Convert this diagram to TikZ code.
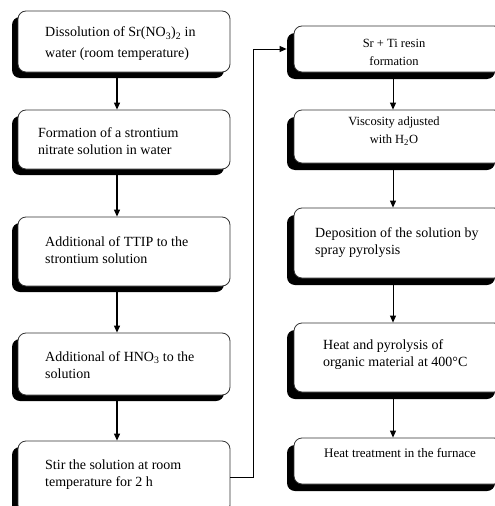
\documentclass[tikz,border=0pt]{standalone}
\usepackage{fontspec}
\setmainfont{Liberation Serif}
\usetikzlibrary{shadows,arrows.meta}
\begin{document}
\begin{tikzpicture}[x=1pt,y=-1pt,
  lbox/.style={draw=black!80, line width=0.8pt, rounded corners=8pt, fill=white,
    minimum width=212pt, inner sep=0pt,
    drop shadow={shadow xshift=-6pt, shadow yshift=-6pt, fill=black, opacity=1}},
  rbox/.style={draw=black!80, line width=0.8pt, rounded corners=8pt, fill=white,
    minimum width=208pt, inner sep=0pt,
    drop shadow={shadow xshift=-7pt, shadow yshift=-7pt, fill=black, opacity=1}},
  ltext/.style={anchor=west, align=left, inner sep=0pt,
    font=\fontsize{14pt}{17pt}\selectfont},
  ctext/.style={align=center, inner sep=0pt,
    font=\fontsize{12.5pt}{18pt}\selectfont},
  arr/.style={line width=1.1pt, -{Triangle[length=7pt,width=6pt]}}
]
\useasboundingbox (0,0) rectangle (495,506);
\clip (0,0) rectangle (495,506);
\fill[white] (0,0) rectangle (495,506);

% left column boxes
\node[lbox, minimum height=61pt] (b1) at (124,41.5) {};
\node[lbox, minimum height=59pt] (b2) at (124,139.5) {};
\node[lbox, minimum height=69pt] (b3) at (124,251.5) {};
\node[lbox, minimum height=62pt] (b4) at (124,364) {};
\node[lbox, minimum height=72pt] (b5) at (124,477) {};

% right column boxes
\node[rbox, minimum height=46pt] (r1) at (398,49) {};
\node[rbox, minimum height=53pt] (r2) at (398,136.5) {};
\node[rbox, minimum height=70pt] (r3) at (398,243) {};
\node[rbox, minimum height=69pt] (r4) at (398,357.5) {};
\node[rbox, minimum height=46pt] (r5) at (398,461) {};

% left texts
\node[ltext] (t1) at (45,44) {Dissolution of Sr(NO\textsubscript{3})\textsubscript{2} in\\[4pt]water (room temperature)};
\node[ltext] (t2) at (38,141) {Formation of a strontium\\nitrate solution in water};
\node[ltext] (t3) at (45,250) {Additional of TTIP to the\\strontium solution};
\node[ltext] (t4) at (45,365) {Additional of HNO\textsubscript{3} to the\\solution};
\node[ltext] (t5) at (45,475) {Stir the solution at room\\temperature for 2 h};

% right texts
\node[ctext] (s1) at (394,52) {Sr + Ti resin\\formation};
\node[ctext] (s2) at (394,131) {Viscosity adjusted\\with H\textsubscript{2}O};
\node[ltext] (s3) at (315,243) {Deposition of the solution by\\spray pyrolysis};
\node[ltext] (s4) at (323,355) {Heat and pyrolysis of\\organic material at 400°C};
\node[ctext, font=\fontsize{13pt}{16pt}\selectfont] (s5) at (400,453) {Heat treatment in the furnace};

% left arrows
\draw[arr] ([xshift=-7pt,yshift=-6pt]b1.south) -- ([xshift=-7pt]b2.north);
\draw[arr] ([xshift=-7pt,yshift=-6pt]b2.south) -- ([xshift=-7pt]b3.north);
\draw[arr] ([xshift=-7pt,yshift=-6pt]b3.south) -- ([xshift=-7pt]b4.north);
\draw[arr] ([xshift=-7pt,yshift=-6pt]b4.south) -- ([xshift=-7pt]b5.north);

% right arrows
\draw[arr, line width=0.9pt] ([xshift=-5pt,yshift=-7pt]r1.south) -- ([xshift=-5pt]r2.north);
\draw[arr, line width=0.9pt] ([xshift=-5pt,yshift=-7pt]r2.south) -- ([xshift=-5pt]r3.north);
\draw[arr, line width=0.9pt] ([xshift=-5pt,yshift=-7pt]r3.south) -- ([xshift=-5pt]r4.north);
\draw[arr, line width=0.9pt] ([xshift=-5pt,yshift=-7pt]r4.south) -- ([xshift=-5pt]r5.north);

% connector
\draw[arr, line width=0.9pt] (b5.east) -- ++(23,0) |- ([xshift=-7pt]r1.west);
\end{tikzpicture}
\end{document}
